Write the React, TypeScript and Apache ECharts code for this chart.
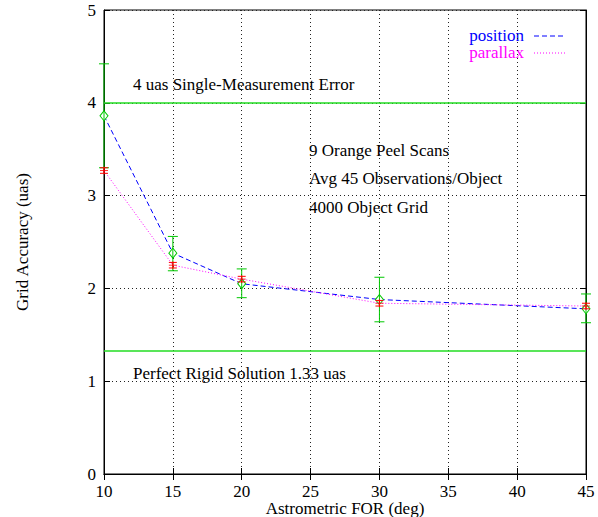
import React, { useEffect, useRef } from "react";
import * as echarts from "echarts";

const xValues = [10, 15, 20, 30, 45];
const positionValues = [3.86, 2.38, 2.05, 1.88, 1.78];
const positionErrLow = [3.3, 2.19, 1.9, 1.64, 1.63];
const positionErrHigh = [4.42, 2.56, 2.21, 2.12, 1.94];
const parallaxValues = [3.27, 2.25, 2.1, 1.84, 1.81];
const parallaxErrLow = [3.24, 2.22, 2.07, 1.81, 1.78];
const parallaxErrHigh = [3.3, 2.28, 2.13, 1.87, 1.84];
const singleMeasurementError = 4;
const rigidSolution = 1.33;

const FONT = "Liberation Serif, Times New Roman, serif";
const FS = 17;
const LH = 15;
const GREEN = "#00c800";

function errorBarRender(color: string, cap: number) {
  return (params: any, api: any) => {
    const x = api.value(0);
    const lo = api.coord([x, api.value(1)]);
    const hi = api.coord([x, api.value(2)]);
    const st = { stroke: color, lineWidth: 1 };
    return {
      type: "group",
      children: [
        { type: "line", shape: { x1: lo[0], y1: lo[1], x2: hi[0], y2: hi[1] }, style: st },
        { type: "line", shape: { x1: lo[0] - cap, y1: lo[1], x2: lo[0] + cap, y2: lo[1] }, style: st },
        { type: "line", shape: { x1: hi[0] - cap, y1: hi[1], x2: hi[0] + cap, y2: hi[1] }, style: st },
      ],
    };
  };
}

function txt(text: string, x: number, y: number, fill = "#000", align = "left") {
  return {
    type: "text",
    x,
    y,
    style: { text, fontFamily: FONT, fontSize: FS, lineHeight: LH, fill, align, verticalAlign: "middle" },
  };
}

export default function App() {
  const ref = useRef<HTMLDivElement>(null);
  useEffect(() => {
    const chart = echarts.init(ref.current!, null, { renderer: "svg" });
    const axisCommon = {
      axisLine: { show: true, lineStyle: { color: "#000", width: 1 } },
      axisTick: { show: true, inside: true, length: 6, lineStyle: { color: "#000" } },
    };
    chart.setOption({
      animation: false,
      backgroundColor: "#fff",
      textStyle: { fontFamily: FONT },
      grid: {
        left: 104,
        right: 12,
        top: 10,
        bottom: 43,
        containLabel: false,
        outerBoundsMode: "none",
        show: true,
        borderColor: "#000",
        borderWidth: 1,
      },
      xAxis: [
        {
          type: "value",
          min: 10,
          max: 45,
          interval: 5,
          ...axisCommon,
          axisLabel: { color: "#000", fontFamily: FONT, fontSize: FS, lineHeight: LH, margin: 10 },
          splitLine: { show: true, lineStyle: { color: "#222", type: [1, 3], width: 1 } },
          name: "Astrometric FOR (deg)",
          nameLocation: "middle",
          nameGap: 27,
          nameMoveOverlap: false,
          nameTextStyle: { color: "#000", fontFamily: FONT, fontSize: FS, lineHeight: LH },
        },
        {
          type: "value",
          position: "top",
          min: 10,
          max: 45,
          interval: 5,
          ...axisCommon,
          axisLabel: { show: false },
          splitLine: { show: false },
        },
      ],
      yAxis: [
        {
          type: "value",
          min: 0,
          max: 5,
          interval: 1,
          ...axisCommon,
          axisLabel: { color: "#000", fontFamily: FONT, fontSize: FS, lineHeight: LH, margin: 8 },
          splitLine: { show: true, lineStyle: { color: "#222", type: [1, 3], width: 1 } },
          name: "Grid Accuracy (uas)",
          nameLocation: "middle",
          nameGap: 74,
          nameMoveOverlap: false,
          nameTextStyle: { color: "#000", fontFamily: FONT, fontSize: FS, lineHeight: LH },
        },
        {
          type: "value",
          position: "right",
          min: 0,
          max: 5,
          interval: 1,
          ...axisCommon,
          axisLabel: { show: false },
          splitLine: { show: false },
        },
      ],
      series: [
        {
          type: "line",
          name: "reference",
          data: [],
          markLine: {
            silent: true,
            symbol: "none",
            label: { show: false },
            lineStyle: { color: "#22dd22", width: 1.5, type: "solid" },
            data: [{ yAxis: singleMeasurementError }, { yAxis: rigidSolution }],
          },
        },
        {
          type: "line",
          name: "position",
          data: xValues.map((x, i) => [x, positionValues[i]]),
          lineStyle: { color: "#0000ff", width: 1, type: [5, 3] },
          symbol: "diamond",
          symbolSize: [8, 10],
          itemStyle: { color: "#fff", borderColor: GREEN, borderWidth: 1 },
          z: 3,
        },
        {
          type: "custom",
          name: "position err",
          data: xValues.map((x, i) => [x, positionErrLow[i], positionErrHigh[i]]),
          renderItem: errorBarRender(GREEN, 5),
          z: 4,
        },
        {
          type: "line",
          name: "parallax",
          data: xValues.map((x, i) => [x, parallaxValues[i]]),
          lineStyle: { color: "#ff00ff", width: 1, type: [1, 2] },
          symbol: "none",
          z: 5,
        },
        {
          type: "custom",
          name: "parallax err",
          data: xValues.map((x, i) => [x, parallaxErrLow[i], parallaxErrHigh[i]]),
          renderItem: errorBarRender("#ff0000", 4),
          z: 6,
        },
        {
          type: "scatter",
          name: "parallax pts",
          data: xValues.map((x, i) => [x, parallaxValues[i]]),
          symbol: "path://M0,5L10,5M5,0L5,10",
          symbolSize: 8,
          itemStyle: { color: "none", borderColor: "#ff0000", borderWidth: 1 },
          z: 7,
        },
      ],
      graphic: [
        txt("4 uas Single-Measurement Error", 133, 84),
        txt("9 Orange Peel Scans", 309, 150),
        txt("Avg 45 Observations/Object", 309, 178),
        txt("4000 Object Grid", 309, 207),
        txt("Perfect Rigid Solution 1.33 uas", 133, 373),
        txt("position", 524, 35, "#0000ff", "right"),
        txt("parallax", 524, 52, "#ff00ff", "right"),
        { type: "line", shape: { x1: 534, y1: 36, x2: 566, y2: 36 }, style: { stroke: "#0000ff", lineWidth: 1, lineDash: [5, 3] } },
        { type: "line", shape: { x1: 534, y1: 53, x2: 566, y2: 53 }, style: { stroke: "#ff00ff", lineWidth: 1, lineDash: [1, 2] } },
      ],
    });
    return () => chart.dispose();
  }, []);
  return <div ref={ref} style={{ width: 598, height: 517, position: "absolute", left: 0, top: 0 }} />;
}
